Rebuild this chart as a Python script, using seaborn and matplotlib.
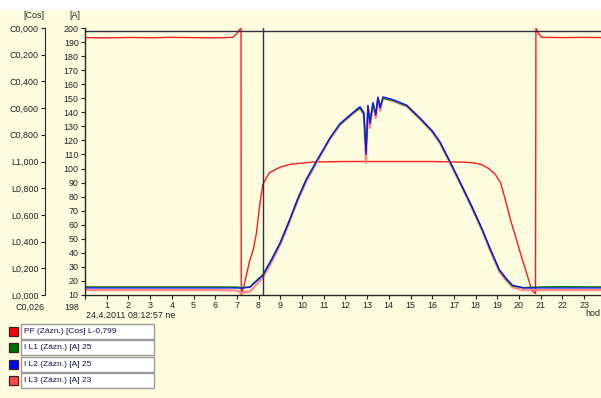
import matplotlib
matplotlib.use("Agg")
import numpy as np
import pandas as pd
import matplotlib.pyplot as plt
import seaborn as sns
from matplotlib.patches import Rectangle

# PF record, stored in the position units of the [Cos] axis
# (0 = L0,000 at the bottom, 1 = L1,000, 2 = C0,000 at the top)
hours_pf = [0, 1, 2, 3, 4, 5, 6, 6.8, 7.0, 7.1, 7.19, 7.2, 7.3, 7.45, 7.6, 7.75,
            7.9, 8.06, 8.2, 8.5, 9.0, 9.45, 10.5, 12, 14, 16, 17.5, 18.0, 18.3,
            18.6, 18.9, 19.15, 19.35, 19.6, 20.1, 20.6, 20.76, 20.78, 20.9,
            21.05, 22, 23, 23.8]
pf_pos = [1.928, 1.926, 1.929, 1.927, 1.930, 1.928, 1.926, 1.930, 1.958, 1.984,
          2.0, 0.0, 0.053, 0.158, 0.263, 0.337, 0.463, 0.684, 0.832, 0.916,
          0.958, 0.979, 0.996, 1.0, 1.0, 1.0, 0.995, 0.988, 0.975, 0.947,
          0.905, 0.842, 0.726, 0.568, 0.295, 0.032, 0.011, 2.0, 1.958, 1.930,
          1.928, 1.930, 1.928]

# phase currents [A]
hours_i = [0, 2, 4, 6, 7.0, 7.2, 7.6, 7.85, 8.2, 8.6, 9.0, 9.4, 9.8, 10.2, 10.7,
           11.3, 11.75, 12.35, 12.67, 12.85, 12.95, 13.04, 13.13, 13.27, 13.4,
           13.5, 13.6, 13.73, 14.2, 14.84, 15.44, 16.0, 16.36, 16.82, 17.3, 17.8,
           18.3, 18.7, 19.1, 19.4, 19.7, 20.2, 21, 22, 23.8]
i_l1 = [15.7, 15.7, 15.7, 15.7, 15.6, 15.2, 15.8, 19.5, 24.5, 35.5, 47.5, 62.5,
        78.5, 92.5, 106, 122, 131.5, 139.5, 143, 139, 112, 144, 133, 146, 139,
        150, 144, 150, 148.5, 144.5, 135.5, 126.5, 118.5, 104.5, 89.5, 73.5,
        56.5, 41.5, 27.5, 21.5, 16.5, 15.2, 15.7, 15.9, 15.7]
i_l2 = [15, 15, 15, 15, 15, 14.8, 15.5, 19, 24, 35, 47, 62, 78, 92, 106, 122, 132,
        140, 144, 140, 110, 145, 132, 147, 138, 151, 143, 151, 149, 145, 136, 127,
        119, 105, 90, 74, 57, 42, 28, 22, 17, 15, 15, 15, 15]
i_l3 = [13.5, 13.5, 13.5, 13.5, 13.2, 11.5, 12.5, 16.5, 22.5, 33.5, 46, 61, 77,
        91, 105, 121, 131, 139, 143, 138, 104, 144, 129, 146, 136, 150, 141, 150,
        148, 144, 135, 126, 118, 104, 89, 73, 56, 40.5, 26.5, 20.5, 15.5, 13.5,
        13.5, 13.5, 13.5]

cos_labels = ["L0,000", "L0,200", "L0,400", "L0,600", "L0,800", "L1,000",
              "C0,800", "C0,600", "C0,400", "C0,200", "C0,000"]
amp_ticks = list(range(10, 201, 10))
hour_labels = [""] + [str(h) for h in range(1, 24)]
legend_rows = ["PF (Zázn.) [Cos] L-0,799", "I L1 (Zázn.) [A] 25",
               "I L2 (Zázn.) [A] 25", "I L3 (Zázn.) [A] 23"]
legend_colors = ["#FF0000", "#007000", "#0000FF", "#FF4A4A"]
cursor_hour = 8.216
cursor_amp = 198

bg = "#FFFDE0"
font = ["Liberation Sans Narrow", "Liberation Sans", "DejaVu Sans"]
fs = 6.4

sns.set_style("ticks")
plt.rcParams["font.family"] = font
plt.rcParams["font.size"] = fs

W, H = 601, 398
fig = plt.figure(figsize=(W / 100, H / 100), dpi=100, facecolor=bg)
# white strip at the top
fig.patches.append(Rectangle((0, 1 - 10 / H), 1, 10 / H, transform=fig.transFigure,
                             facecolor="white", edgecolor="none", zorder=0))

x0, x1, y_top, y_bot = 85, 601, 28, 295
rect = [x0 / W, 1 - y_bot / H, (x1 - x0) / W, (y_bot - y_top) / H]
ax = fig.add_axes(rect)
ax.set_facecolor(bg)
ax.set_xlim(0, (x1 - x0) / 21.7)
ax.set_ylim(10, 200)

ax2 = ax.twinx()
ax2.set_ylim(0, 2)

# PF on the cos axis
pf_df = pd.DataFrame({"hour": hours_pf, "pf": pf_pos})
sns.lineplot(data=pf_df, x="hour", y="pf", ax=ax2, color="#FF1A1A", lw=1.0,
             estimator=None, sort=False)

cur_df = pd.DataFrame({"hour": hours_i, "L1": i_l1, "L2": i_l2, "L3": i_l3})
sns.lineplot(data=cur_df, x="hour", y="L3", ax=ax, color="#FF8A8A", lw=1.6,
             estimator=None, sort=False)
sns.lineplot(data=cur_df, x="hour", y="L1", ax=ax, color="#008000", lw=1.1,
             estimator=None, sort=False)
sns.lineplot(data=cur_df, x="hour", y="L2", ax=ax, color="#1010FF", lw=0.9,
             estimator=None, sort=False)

# cursor cross
ax.axvline(cursor_hour, color="#303040", lw=1.0)
ax.axhline(cursor_amp, color="#303040", lw=1.0)

ax.set_zorder(ax2.get_zorder() + 1)
ax.patch.set_visible(False)
ax2.patch.set_facecolor(bg)
ax2.patch.set_visible(True)

# amp axis
ax.set_yticks(amp_ticks)
ax.set_yticklabels([str(v) for v in amp_ticks])
ax.set_xticks(range(24))
ax.set_xticklabels(hour_labels)
ax.tick_params(axis="both", length=3, width=0.8, pad=1.5, labelsize=fs,
               color="#202020", labelcolor="#202020")
for s in ["top", "right"]:
    ax.spines[s].set_visible(False)
ax.spines["left"].set_linewidth(1.0)
ax.spines["bottom"].set_linewidth(1.0)
ax.set_xlabel("")
ax.set_ylabel("")

# cos axis, 40 px left of the amp axis
ax2.yaxis.tick_left()
ax2.yaxis.set_label_position("left")
ax2.spines["left"].set_visible(True)
ax2.spines["left"].set_position(("axes", -40 / (x1 - x0)))
for s in ["top", "right", "bottom"]:
    ax2.spines[s].set_visible(False)
ax2.set_yticks(np.linspace(0, 2, len(cos_labels)))
ax2.set_yticklabels(cos_labels)
ax2.tick_params(axis="y", length=3, width=0.8, pad=1.5, labelsize=fs,
                color="#202020", labelcolor="#202020")
ax2.set_ylabel("")

def px_text(x, y, s, ha="left", size=fs, color="#202020"):
    fig.text(x / W, 1 - y / H, s, ha=ha, va="center", fontsize=size, color=color)

px_text(44, 16, "[Cos]", ha="right")
px_text(80, 16, "[A]", ha="right")
px_text(44, 307, "C0,026", ha="right")
px_text(79, 307, "198", ha="right")
px_text(86, 315, "24.4.2011 08:12:57 ne")
px_text(600, 314, "hod", ha="right")

# legend boxes at the bottom left
for k, (label, col) in enumerate(zip(legend_rows, legend_colors)):
    top = 324 + k * 16.3
    fig.patches.append(Rectangle((21 / W, 1 - (top + 15) / H), 133 / W, 15 / H,
                                 transform=fig.transFigure, facecolor="white",
                                 edgecolor="#9A9A9A", lw=1.0))
    fig.patches.append(Rectangle((9 / W, 1 - (top + 12) / H), 9 / W, 9 / H,
                                 transform=fig.transFigure, facecolor=col,
                                 edgecolor="#3A2020", lw=0.9))
    px_text(24, top + 7.5, label, size=6.0, color="#101050")

fig.savefig("out.png", dpi=100, facecolor=bg)
